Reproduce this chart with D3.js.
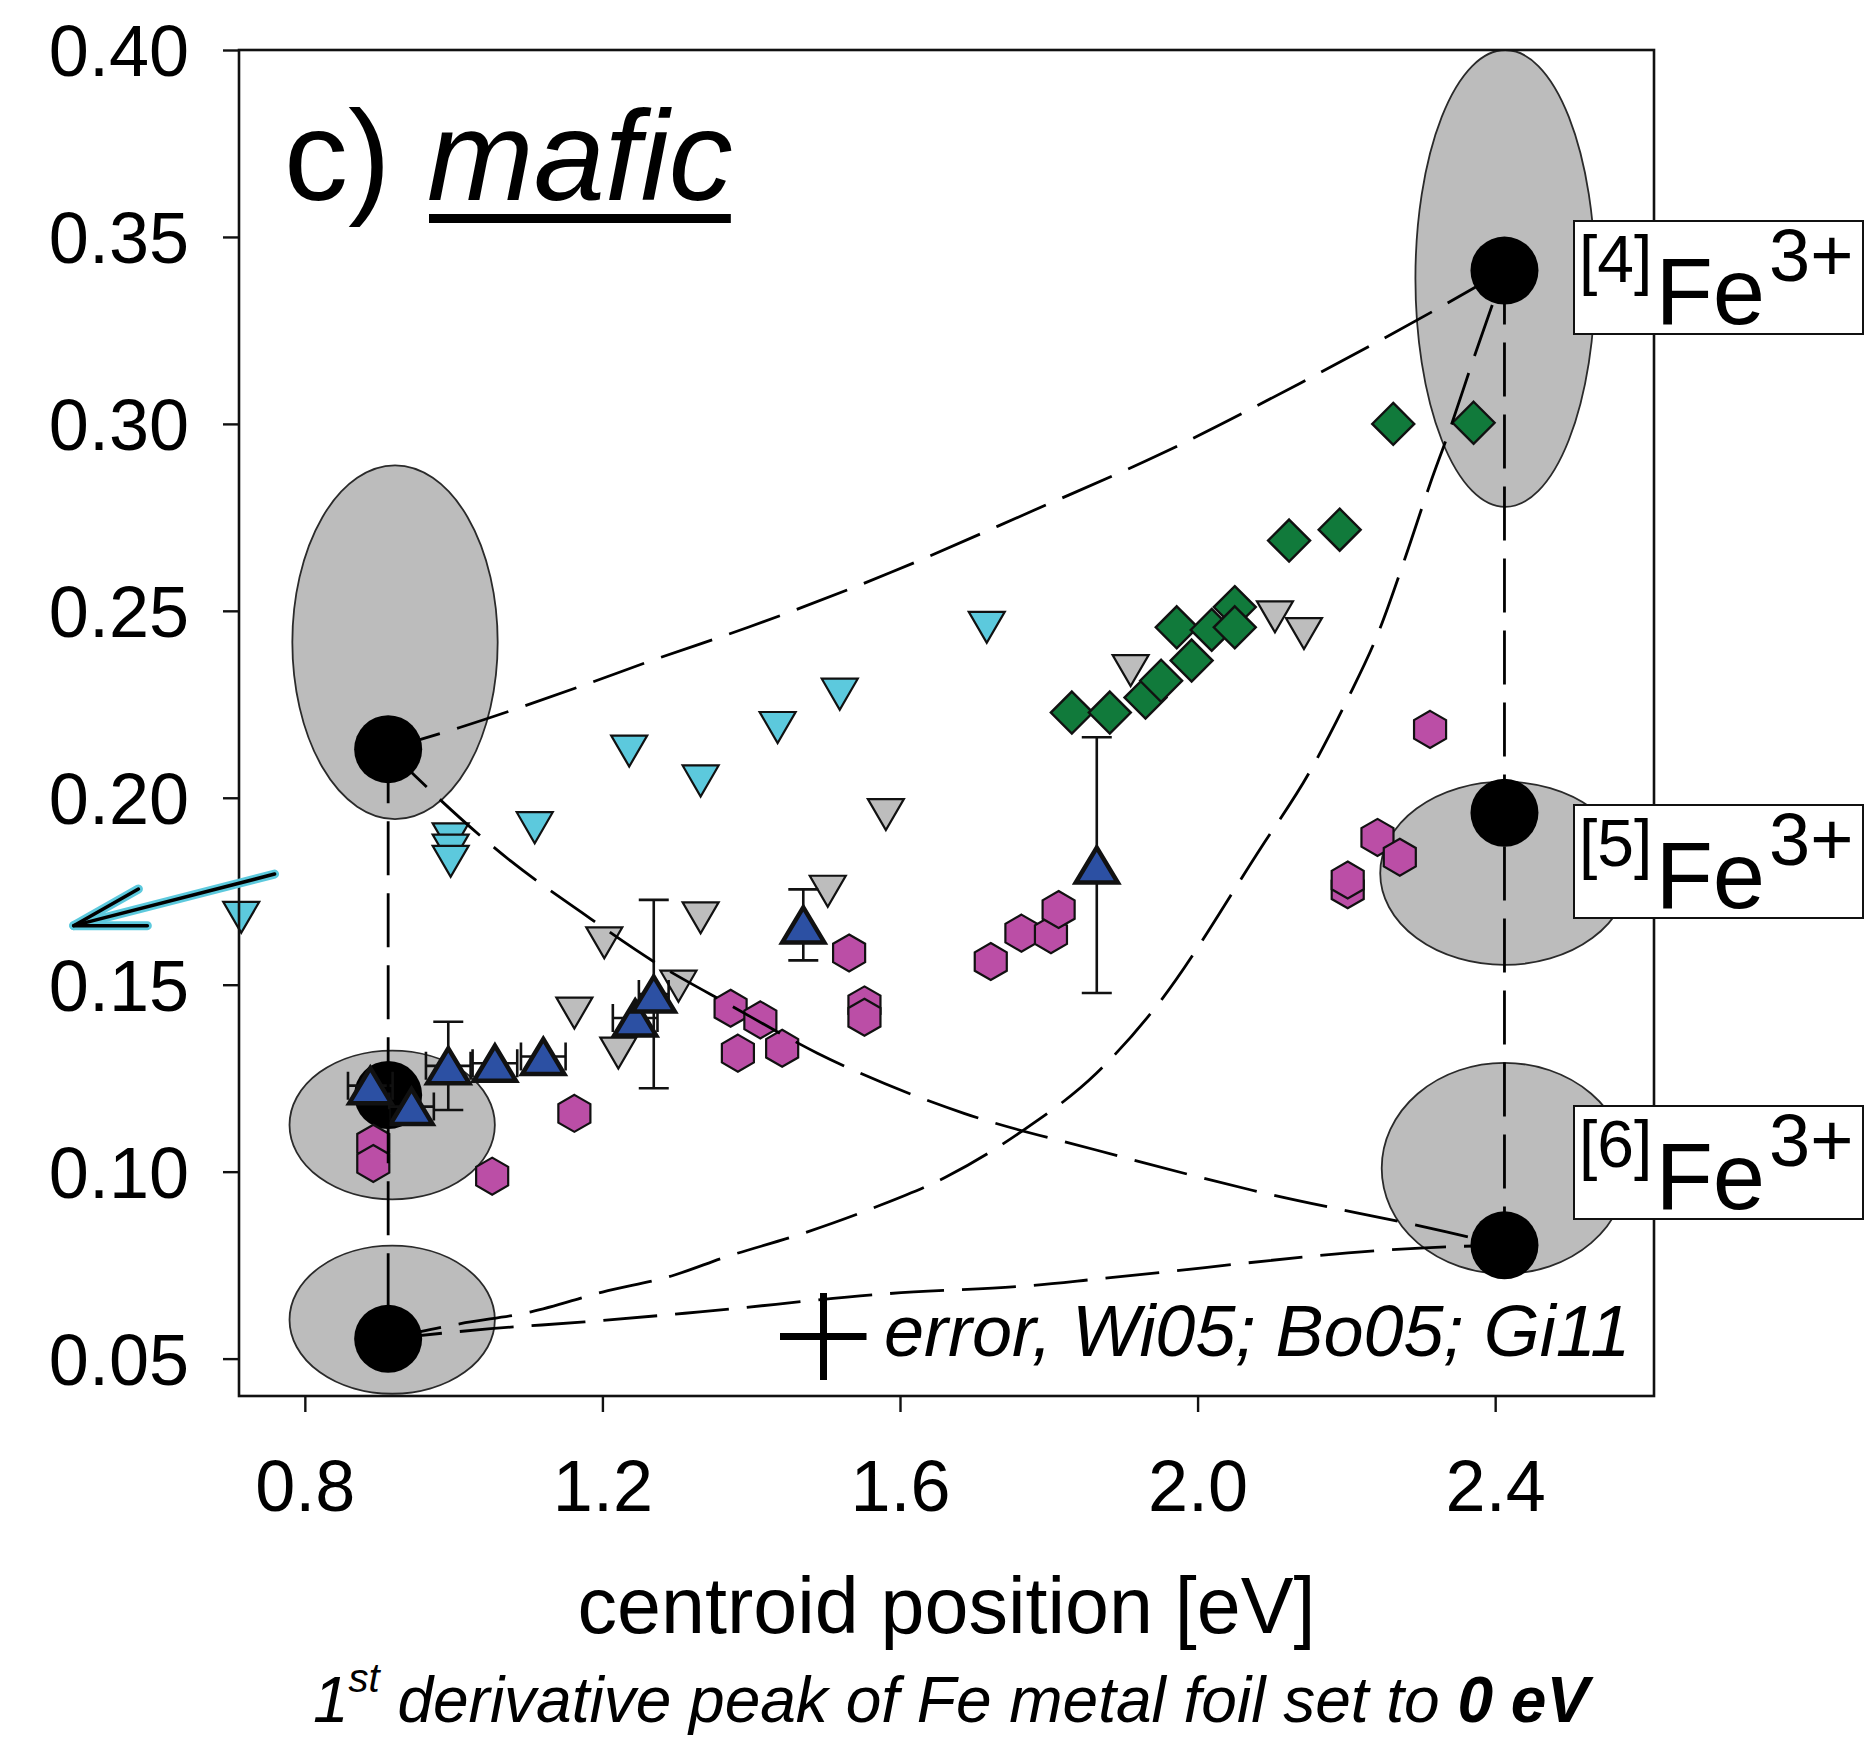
<!DOCTYPE html>
<html>
<head>
<meta charset="utf-8">
<script src="https://cdn.jsdelivr.net/npm/d3@7"></script>
<style>
body { margin: 0; background: #fff; }
svg text { font-family: "Liberation Sans", Arial, sans-serif; fill: #000; }
</style>
</head>
<body>
<div id="wrapper"></div>
<script>
// values
const xTicks = [0.8, 1.2, 1.6, 2.0, 2.4];
const yTicks = [0.05, 0.10, 0.15, 0.20, 0.25, 0.30, 0.35, 0.40];

const cyanX = [0.7145, 0.996, 0.996, 0.996, 1.109, 1.236, 1.332, 1.4355, 1.519, 1.7166];
const cyanY = [0.168, 0.189, 0.186, 0.183, 0.192, 0.2125, 0.2045, 0.2188, 0.2277, 0.2456];

const grayX = [1.1623, 1.2025, 1.2214, 1.3022, 1.332, 1.5029, 1.581, 1.910, 2.104, 2.143];
const grayY = [0.1424, 0.1612, 0.1317, 0.1496, 0.1679, 0.175, 0.1955, 0.234, 0.2484, 0.2439];

const greenX = [1.831, 1.882, 1.930, 1.951, 1.992, 1.972, 2.019, 2.050, 2.050, 2.123, 2.191, 2.263, 2.371];
const greenY = [0.2228, 0.2228, 0.2268, 0.2313, 0.2367, 0.2456, 0.2449, 0.2510, 0.2456, 0.2688, 0.2717, 0.3000, 0.3003];

const magentaX = [0.892, 0.892, 1.0518, 1.1623, 1.3723, 1.3821, 1.4123, 1.4416, 1.5316, 1.5522, 1.5522, 1.722, 1.7632, 1.8029, 1.8132, 2.2018, 2.2018, 2.2418, 2.2718, 2.3125];
const magentaY = [0.1076, 0.1022, 0.0988, 0.1156, 0.1437, 0.1317, 0.1406, 0.1330, 0.1585, 0.1446, 0.1413, 0.1562, 0.1638, 0.1634, 0.1701, 0.1754, 0.1780, 0.1894, 0.1841, 0.2183];

const blueX = [0.888, 0.9434, 0.9928, 1.0555, 1.1205, 1.244, 1.269, 1.470, 1.8645];
const blueY = [0.123, 0.1174, 0.1283, 0.129, 0.1308, 0.1411, 0.1475, 0.166, 0.182];
const blueYErr = [0, 0, 0.0118, 0, 0, 0, 0.0252, 0.0095, 0.0342];
const blueXErr = [0.03, 0.03, 0.03, 0.03, 0.03, 0.03, 0.02, 0, 0];

// end members (black dots) and their fields (grey ellipses)
const refX = [0.912, 0.912, 0.912, 2.4125, 2.4125, 2.4125];
const refY = [0.213, 0.1205, 0.0553, 0.341, 0.196, 0.0803];
const fieldCx = [0.9212, 0.9174, 0.9174, 2.4136, 2.4125, 2.4125];
const fieldCy = [0.2416, 0.1125, 0.0604, 0.3389, 0.1798, 0.1009];
const fieldRx = [0.138, 0.138, 0.138, 0.1208, 0.167, 0.165];
const fieldRy = [0.0473, 0.0199, 0.0198, 0.0611, 0.0245, 0.0282];

// mixing lines
const mixAX = [0.912, 1.0082, 1.1732, 1.2663, 1.396, 1.588, 1.780, 1.951, 2.138, 2.335, 2.4125];
const mixAY = [0.213, 0.2188, 0.2300, 0.2367, 0.2456, 0.2603, 0.2769, 0.2920, 0.3109, 0.3322, 0.341];
const mixBX = [0.912, 0.948, 1.0766, 1.173, 1.272, 1.372, 1.489, 1.686, 1.8635, 2.072, 2.3345, 2.4125];
const mixBY = [0.213, 0.2059, 0.1831, 0.1692, 0.1558, 0.1445, 0.1317, 0.1156, 0.1058, 0.0951, 0.0839, 0.0803];
const mixCX = [0.912, 1.008, 1.104, 1.200, 1.296, 1.366, 1.462, 1.563, 1.663, 1.763, 1.864, 1.941, 2.0848, 2.15, 2.2006, 2.2424, 2.2794, 2.3126, 2.3388, 2.3704, 2.4125];
const mixCY = [0.0553, 0.0593, 0.0625, 0.0678, 0.0723, 0.0772, 0.083, 0.0902, 0.0987, 0.1107, 0.1263, 0.1433, 0.1865, 0.2067, 0.226, 0.2439, 0.2644, 0.284, 0.2984, 0.3171, 0.341];
const mixDX = [0.912, 1.05, 1.176, 1.331, 1.586, 1.779, 1.871, 2.3345, 2.4125];
const mixDY = [0.0553, 0.058, 0.0598, 0.0625, 0.0674, 0.0696, 0.0714, 0.0799, 0.0803];

// arrow pointing to the off-scale point
const arrowX = [0.7593, 0.4893];
const arrowY = [0.1796, 0.1658];
const barbX = [0.5763, 0.4893, 0.5883];
const barbY = [0.1756, 0.1658, 0.1658];

const siteLabels = ["4", "5", "6"];

function buildPlot() {
    const dimension = {
        width: 1875,
        height: 1740,
        margin: { top: 50, left: 239, right: 221, bottom: 344 }
    };
    dimension.boundedWidth = dimension.width - dimension.margin.left - dimension.margin.right;
    dimension.boundedHeight = dimension.height - dimension.margin.top - dimension.margin.bottom;

    const svg = d3.select("#wrapper").append("svg")
        .attr("width", dimension.width)
        .attr("height", dimension.height);
    svg.append("rect").attr("width", dimension.width).attr("height", dimension.height).attr("fill", "#fff");

    const bounded = svg.append("g")
        .attr("transform", `translate(${dimension.margin.left},${dimension.margin.top})`);

    const xScaler = d3.scaleLinear().domain([0.7115, 2.6135]).range([0, dimension.boundedWidth]);
    const yScaler = d3.scaleLinear().domain([0.04, 0.40]).range([dimension.boundedHeight, 0]);

    const zip = (xs, ys) => xs.map((x, i) => ({ x: x, y: ys[i] }));

    // grey fields
    bounded.append("g").selectAll("ellipse")
        .data(d3.range(fieldCx.length))
        .join("ellipse")
        .attr("cx", i => xScaler(fieldCx[i]))
        .attr("cy", i => yScaler(fieldCy[i]))
        .attr("rx", i => xScaler(fieldCx[i] + fieldRx[i]) - xScaler(fieldCx[i]))
        .attr("ry", i => yScaler(fieldCy[i] - fieldRy[i]) - yScaler(fieldCy[i]))
        .attr("fill", "#bcbcbc")
        .attr("stroke", "#2a2a2a")
        .attr("stroke-width", 1.8);

    // black end members
    bounded.append("g").selectAll("circle")
        .data(zip(refX, refY))
        .join("circle")
        .attr("cx", d => xScaler(d.x))
        .attr("cy", d => yScaler(d.y))
        .attr("r", 34)
        .attr("fill", "#000");

    const downTri = (d) => {
        const cx = xScaler(d.x), cy = yScaler(d.y), w = 36, h = 31;
        return `M${cx - w / 2},${cy - h / 2}L${cx + w / 2},${cy - h / 2}L${cx},${cy + h / 2}Z`;
    };
    const upTri = (d) => {
        const cx = xScaler(d.x), cy = yScaler(d.y), w = 42, h = 35;
        return `M${cx},${cy - h / 2}L${cx + w / 2},${cy + h / 2}L${cx - w / 2},${cy + h / 2}Z`;
    };
    const diamond = (d) => {
        const cx = xScaler(d.x), cy = yScaler(d.y), r = 21;
        return `M${cx},${cy - r}L${cx + r},${cy}L${cx},${cy + r}L${cx - r},${cy}Z`;
    };
    const hexagon = (d) => {
        const cx = xScaler(d.x), cy = yScaler(d.y), r = 18.5;
        const pts = d3.range(6).map(k => {
            const a = (-90 + 60 * k) * Math.PI / 180;
            return [cx + r * Math.cos(a), cy + r * Math.sin(a)];
        });
        return "M" + pts.join("L") + "Z";
    };

    function drawSeries(data, shape, fill, strokeWidth) {
        bounded.append("g").selectAll("path")
            .data(data)
            .join("path")
            .attr("d", shape)
            .attr("fill", fill)
            .attr("stroke", "#111")
            .attr("stroke-width", strokeWidth)
            .attr("stroke-linejoin", "miter");
    }

    drawSeries(zip(cyanX, cyanY), downTri, "#5cc9dd", 2.2);
    drawSeries(zip(grayX, grayY), downTri, "#bdbdbd", 2.2);
    drawSeries(zip(greenX, greenY), diamond, "#117a3b", 2.4);
    drawSeries(zip(magentaX, magentaY), hexagon, "#bb4ea6", 2.2);

    // error bars for the blue series
    const blue = blueX.map((x, i) => ({ x: x, y: blueY[i], ex: blueXErr[i], ey: blueYErr[i] }));
    const errG = bounded.append("g").attr("stroke", "#111").attr("stroke-width", 2.6).attr("fill", "none");
    blue.filter(d => d.ey > 0).forEach(d => {
        const cx = xScaler(d.x), y0 = yScaler(d.y - d.ey), y1 = yScaler(d.y + d.ey);
        errG.append("path").attr("d", `M${cx},${y0}V${y1}M${cx - 15},${y0}H${cx + 15}M${cx - 15},${y1}H${cx + 15}`);
    });
    blue.filter(d => d.ex > 0).forEach(d => {
        const cy = yScaler(d.y), x0 = xScaler(d.x - d.ex), x1 = xScaler(d.x + d.ex);
        errG.append("path").attr("d", `M${x0},${cy}H${x1}M${x0},${cy - 14}V${cy + 14}M${x1},${cy - 14}V${cy + 14}`);
    });
    drawSeries(blue, upTri, "#2c50a3", 4.5);

    // dashed mixing lines
    const lineGenerator = d3.line()
        .x(d => xScaler(d.x))
        .y(d => yScaler(d.y))
        .curve(d3.curveMonotoneX);
    const dashG = bounded.append("g")
        .attr("fill", "none")
        .attr("stroke", "#000")
        .attr("stroke-width", 2.8)
        .attr("stroke-dasharray", "54,18");
    [[mixAX, mixAY], [mixBX, mixBY], [mixCX, mixCY], [mixDX, mixDY]].forEach(([xs, ys]) => {
        dashG.append("path").attr("d", lineGenerator(zip(xs, ys)));
    });
    // vertical tie lines through the end members
    const straight = d3.line().x(d => xScaler(d.x)).y(d => yScaler(d.y));
    dashG.append("path").attr("d", straight(zip(refX.slice(0, 3), refY.slice(0, 3))));
    dashG.append("path").attr("d", straight(zip(refX.slice(3), refY.slice(3))));

    // frame
    bounded.append("rect")
        .attr("width", dimension.boundedWidth)
        .attr("height", dimension.boundedHeight)
        .attr("fill", "none")
        .attr("stroke", "#111")
        .attr("stroke-width", 2.6);

    // axes
    const x_axis = d3.axisBottom(xScaler).tickValues(xTicks).tickFormat(d3.format(".1f")).tickSize(16).tickPadding(48);
    const y_axis = d3.axisLeft(yScaler).tickValues(yTicks).tickFormat(d3.format(".2f")).tickSize(16).tickPadding(34);

    const xg = bounded.append("g")
        .attr("transform", `translate(0,${dimension.boundedHeight})`)
        .call(x_axis);
    const yg = bounded.append("g").call(y_axis);
    [xg, yg].forEach(g => {
        g.select(".domain").remove();
        g.selectAll("line").attr("stroke", "#111").attr("stroke-width", 2.4);
        g.selectAll("text").attr("font-size", 72).attr("fill", "#000")
            .style("font-family", "'Liberation Sans', Arial, sans-serif");
    });
    yg.selectAll("text").attr("dy", "0.36em");

    // arrow for the off-scale cyan point
    const arrowPaths = [straight(zip(arrowX, arrowY)), straight(zip(barbX, barbY))];
    arrowPaths.forEach(p => {
        bounded.append("path").attr("d", p).attr("fill", "none")
            .attr("stroke", "#5cc9dd").attr("stroke-width", 9).attr("stroke-linecap", "round").attr("stroke-linejoin", "round");
    });
    arrowPaths.forEach(p => {
        bounded.append("path").attr("d", p).attr("fill", "none")
            .attr("stroke", "#000").attr("stroke-width", 3.5).attr("stroke-linecap", "round").attr("stroke-linejoin", "round");
    });

    // panel label
    svg.append("text").attr("x", 284).attr("y", 200).attr("font-size", 128).text("c)");
    const mafic = svg.append("text").attr("x", 427).attr("y", 200)
        .attr("font-size", 128).attr("font-style", "italic").text("mafic");
    const mb = mafic.node().getBBox();
    svg.append("rect").attr("x", mb.x + 2).attr("y", 214).attr("width", mb.width - 4).attr("height", 9).attr("fill", "#000");

    // site labels
    const boxTops = [221, 805, 1106];
    siteLabels.forEach((s, i) => {
        const top = boxTops[i], left = 1574;
        svg.append("rect").attr("x", left).attr("y", top).attr("width", 289).attr("height", 113)
            .attr("fill", "#fff").attr("stroke", "#111").attr("stroke-width", 2);
        const t = svg.append("text").attr("x", left + 5);
        t.append("tspan").attr("y", top + 61).attr("font-size", 66).text(`[${s}]`);
        t.append("tspan").attr("y", top + 103).attr("dx", 3).attr("font-size", 94).text("Fe");
        t.append("tspan").attr("y", top + 60).attr("dx", 4).attr("font-size", 74).text("3+");
    });

    // error legend
    svg.append("path")
        .attr("d", "M780,1336.5H866.5M823.5,1293V1380")
        .attr("stroke", "#000").attr("stroke-width", 7).attr("fill", "none");
    svg.append("text").attr("x", 884).attr("y", 1356)
        .attr("font-size", 72).attr("font-style", "italic")
        .text("error, Wi05; Bo05; Gi11");

    // axis titles
    svg.append("text")
        .attr("x", dimension.margin.left + dimension.boundedWidth / 2)
        .attr("y", 1633)
        .attr("text-anchor", "middle")
        .attr("font-size", 79)
        .text("centroid position [eV]");

    const sub = svg.append("text")
        .attr("x", 951).attr("y", 1722)
        .attr("text-anchor", "middle")
        .attr("font-size", 64).attr("font-style", "italic");
    sub.append("tspan").text("1");
    sub.append("tspan").attr("font-size", 40).attr("dy", -30).text("st");
    sub.append("tspan").attr("dy", 30).text(" derivative peak of Fe metal foil set to ");
    sub.append("tspan").attr("font-weight", "bold").text("0 eV");
}

buildPlot();
</script>
</body>
</html>
